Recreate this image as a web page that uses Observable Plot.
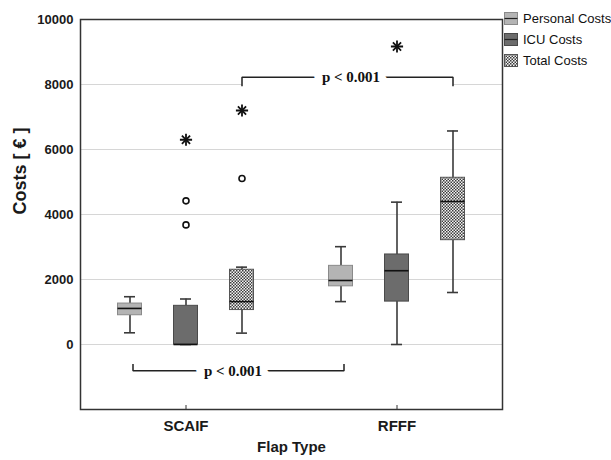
<!DOCTYPE html>
<html>
<head>
<meta charset="utf-8">
<script src="https://cdn.jsdelivr.net/npm/d3@7"></script>
<script src="https://cdn.jsdelivr.net/npm/@observablehq/plot@0.6"></script>
<style>
  html, body { margin: 0; padding: 0; background: #fff; }
  #wrap { position: relative; width: 611px; height: 460px; font-family: "Liberation Sans", Arial, sans-serif; }
  #legend { position: absolute; left: 504px; top: 8px; font-size: 13px; color: #111; white-space: nowrap; }
  #legend .row { display: flex; align-items: center; height: 21px; }
  #legend svg { margin-right: 5px; flex: none; }
</style>
</head>
<body>
<div id="wrap"><div id="legend"></div></div>
<script>
// ---- data ----
const groups = ["SCAIF", "RFFF"];
const types = ["Personal Costs", "ICU Costs", "Total Costs"];
// box statistics, one entry per type, per group
const lowWhisker = { SCAIF: [360, 0, 350],     RFFF: [1320, 0, 1600] };
const q1         = { SCAIF: [900, 0, 1060],    RFFF: [1790, 1320, 3210] };
const median     = { SCAIF: [1110, 0, 1320],   RFFF: [1970, 2270, 4400] };
const q3         = { SCAIF: [1260, 1190, 2300],RFFF: [2420, 2770, 5130] };
const highWhisker= { SCAIF: [1470, 1400, 2380],RFFF: [3010, 4380, 6570] };
// outliers (circles) and extremes (asterisks)
const outlierGroup = ["SCAIF", "SCAIF", "SCAIF"];
const outlierType  = ["ICU Costs", "ICU Costs", "Total Costs"];
const outlierValue = [3680, 4420, 5110];
const extremeGroup = ["SCAIF", "SCAIF", "RFFF"];
const extremeType  = ["ICU Costs", "Total Costs", "ICU Costs"];
const extremeValue = [6300, 7200, 9170];
// significance brackets
const topBracket = { from: "SCAIF", to: "RFFF", level: 8220, end: 7950, label: "p < 0.001" };
const bottomBracket = { from: "SCAIF", to: "RFFF", level: -810, end: -600, label: "p < 0.001" };
const yTicks = [0, 2000, 4000, 6000, 8000, 10000];
const gridTicks = [0, 2000, 4000, 6000, 8000];

// ---- tables ----
const rows = [];
groups.forEach(g => types.forEach((t, i) => rows.push({
  group: g, type: t, min: lowWhisker[g][i], q1: q1[g][i], med: median[g][i], q3: q3[g][i], max: highWhisker[g][i]
})));
const outliers = outlierValue.map((v, i) => ({ group: outlierGroup[i], type: outlierType[i], value: v }));
const extremes = extremeValue.map((v, i) => ({ group: extremeGroup[i], type: extremeType[i], value: v }));

// ---- styles ----
const offsets = { "Personal Costs": -56, "ICU Costs": 0, "Total Costs": 56 };
const fills = { "Personal Costs": "#b4b4b4", "ICU Costs": "#6c6c6c", "Total Costs": "url(#checks)" };
const strokes = { "Personal Costs": "#8a8a8a", "ICU Costs": "#4a4a4a", "Total Costs": "#555" };
const whisk = "#3a3a3a";

const marks = [
  Plot.gridY(gridTicks, { stroke: "#d6d6d6", strokeOpacity: 1, strokeWidth: 1 })
];
types.forEach(t => {
  const d = rows.filter(r => r.type === t);
  const dx = offsets[t];
  const o = outliers.filter(r => r.type === t);
  const e = extremes.filter(r => r.type === t);
  marks.push(
    Plot.ruleX(d, { x: "group", y1: "min", y2: "q1", dx, stroke: whisk, strokeWidth: 1.6 }),
    Plot.ruleX(d, { x: "group", y1: "q3", y2: "max", dx, stroke: whisk, strokeWidth: 1.6 }),
    Plot.tickY(d, { x: "group", y: "min", dx, inset: 100, stroke: whisk, strokeWidth: 1.6 }),
    Plot.tickY(d, { x: "group", y: "max", dx, inset: 100, stroke: whisk, strokeWidth: 1.6 }),
    Plot.barY(d, { x: "group", y1: "q1", y2: "q3", dx, insetLeft: 93.5, insetRight: 93.5, fill: fills[t], stroke: strokes[t], strokeWidth: 1 }),
    Plot.tickY(d, { x: "group", y: "med", dx, inset: 93.5, stroke: "#111", strokeWidth: 1.6 }),
    Plot.dot(o, { x: "group", y: "value", dx, r: 3, fill: "white", stroke: "#111", strokeWidth: 1.6 }),
    Plot.dot(e, { x: "group", y: "value", dx, r: 4, symbol: "plus", stroke: "#111", strokeWidth: 1.8 }),
    Plot.dot(e, { x: "group", y: "value", dx, r: 3.8, symbol: "times", stroke: "#111", strokeWidth: 1.8 })
  );
});

function bracket(b, dx, textDx) {
  const pts = [
    { g: b.from, y: b.end }, { g: b.from, y: b.level }, { g: b.to, y: b.level }, { g: b.to, y: b.end }
  ];
  return [
    Plot.line(pts.slice(1, 3), { x: "g", y: "y", dx, stroke: "white", strokeWidth: 20, strokeLinecap: "butt" }),
    Plot.line(pts, { x: "g", y: "y", dx, stroke: "#222", strokeWidth: 1.5, strokeLinejoin: "miter", strokeLinecap: "butt" }),
    Plot.text([b], { x: () => b.to, y: "level", text: "label", dx: textDx, fill: "#111", stroke: "white", strokeWidth: 16, paintOrder: "stroke",
      fontFamily: "'Liberation Serif', 'Times New Roman', serif", fontWeight: "bold", fontSize: 15 })
  ];
}
marks.push(...bracket(topBracket, 56, -46));
marks.push(...bracket(bottomBracket, -53, -164));

marks.push(
  Plot.frame({ stroke: "#333", strokeWidth: 1.5 }),
  Plot.axisY(yTicks, { tickSize: 0, tickPadding: 7, tickFormat: d3.format("d"), fontSize: 13, fontWeight: "bold", fill: "#1a1a1a", label: null }),
  Plot.axisX({ tickSize: 0, tickPadding: 11, fontSize: 15, fontWeight: "bold", fill: "#1a1a1a", label: null }),
  Plot.ruleX(groups, { x: d => d, insetTop: 386, stroke: "#333", strokeWidth: 1 }),
  Plot.text(["Flap Type"], { frameAnchor: "bottom", dy: 42, fontSize: 15, fontWeight: "bold", fill: "#1a1a1a" }),
  Plot.text(["Costs [ € ]"], { frameAnchor: "left", dx: -60, rotate: -90, fontSize: 18, fontWeight: "bold", fill: "#1a1a1a" })
);

const chart = Plot.plot({
  width: 611,
  height: 460,
  marginLeft: 80,
  marginRight: 109,
  marginTop: 19,
  marginBottom: 51,
  style: { fontFamily: "'Liberation Sans', Arial, sans-serif", background: "white" },
  x: { type: "band", domain: groups, padding: 0, axis: null },
  y: { domain: [-2000, 10000], axis: null },
  marks
});

// checkered pattern for Total Costs
d3.select(chart).insert("defs", ":first-child").html(
  '<pattern id="checks" width="3" height="3" patternUnits="userSpaceOnUse">' +
  '<rect width="3" height="3" fill="#f4f4f4"/>' +
  '<rect width="1.5" height="1.5" fill="#3c3c3c"/>' +
  '<rect x="1.5" y="1.5" width="1.5" height="1.5" fill="#3c3c3c"/></pattern>'
);
document.getElementById("wrap").prepend(chart);

// legend
const legend = d3.select("#legend");
types.forEach(t => {
  const row = legend.append("div").attr("class", "row");
  const s = row.append("svg").attr("width", 14).attr("height", 13);
  s.append("rect").attr("x", 0.5).attr("y", 0.5).attr("width", 13).attr("height", 12)
    .attr("fill", fills[t]).attr("stroke", strokes[t]);
  if (t !== "Total Costs") s.append("line").attr("x1", 0.5).attr("x2", 13.5).attr("y1", 6.5).attr("y2", 6.5).attr("stroke", "#222").attr("stroke-width", 1.2);
  row.append("span").text(t);
});
</script>
</body>
</html>
